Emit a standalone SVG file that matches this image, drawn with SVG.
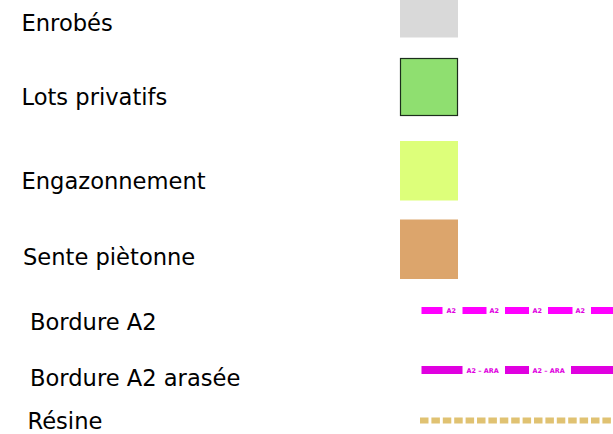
<svg xmlns="http://www.w3.org/2000/svg" width="613" height="434" viewBox="0 0 613 434">
<style>
.lbl{font-family:"DejaVu Sans",sans-serif;font-size:22.6px;fill:#000}
.sm{font-family:"DejaVu Sans",sans-serif;font-size:6.5px;font-weight:bold;fill:#e000e0}
.a2{fill:#ff00ff}
.ara{fill:#e000e0}
.res{fill:#e0c272}
</style>
<rect width="613" height="434" fill="#fff"/>
<g id="enrobes">
<text class="lbl" x="21.5" y="31">Enrobés</text>
<rect x="400" y="0" width="58" height="37.5" fill="#d9d9d9"/>
</g>
<g id="lots-privatifs">
<text class="lbl" x="21.5" y="105">Lots privatifs</text>
<rect x="400.5" y="58.5" width="57" height="57" fill="#8fdf70" stroke="#1c2e1c" stroke-width="1.2"/>
</g>
<g id="engazonnement">
<text class="lbl" x="21.5" y="188.5">Engazonnement</text>
<rect x="400" y="141" width="58" height="59.5" fill="#ddff7a"/>
</g>
<g id="sente-pietonne">
<text class="lbl" x="23" y="265">Sente piètonne</text>
<rect x="400" y="219.5" width="58" height="59.5" fill="#dca56c"/>
</g>
<g id="bordure-a2">
<text class="lbl" x="30" y="330">Bordure A2</text>
<rect class="a2" x="421.5" y="307" width="21" height="7"/>
<text class="sm" x="446.5" y="313">A2</text>
<rect class="a2" x="462.5" y="307" width="24" height="7"/>
<text class="sm" x="489.5" y="313">A2</text>
<rect class="a2" x="505" y="307" width="24" height="7"/>
<text class="sm" x="532.5" y="313">A2</text>
<rect class="a2" x="548" y="307" width="24.5" height="7"/>
<text class="sm" x="575.5" y="313">A2</text>
<rect class="a2" x="591" y="307" width="22" height="7"/>
</g>
<g id="bordure-a2-arasee">
<text class="lbl" x="30" y="386">Bordure A2 arasée</text>
<rect class="ara" x="421.5" y="366" width="41" height="8"/>
<text class="sm" x="466.5" y="372.5">A2 – ARA</text>
<rect class="ara" x="505" y="366" width="24" height="8"/>
<text class="sm" x="532.5" y="372.5">A2 – ARA</text>
<rect class="ara" x="571" y="366" width="42" height="8"/>
</g>
<g id="resine">
<text class="lbl" x="27.5" y="428.5">Résine</text>
<g class="res">
<rect x="420" y="417.5" width="8.5" height="6"/>
<rect x="431.4" y="417.5" width="8.5" height="6"/>
<rect x="442.8" y="417.5" width="8.5" height="6"/>
<rect x="454.2" y="417.5" width="8.5" height="6"/>
<rect x="465.6" y="417.5" width="8.5" height="6"/>
<rect x="477" y="417.5" width="8.5" height="6"/>
<rect x="488.4" y="417.5" width="8.5" height="6"/>
<rect x="499.8" y="417.5" width="8.5" height="6"/>
<rect x="511.2" y="417.5" width="8.5" height="6"/>
<rect x="522.6" y="417.5" width="8.5" height="6"/>
<rect x="534" y="417.5" width="8.5" height="6"/>
<rect x="545.4" y="417.5" width="8.5" height="6"/>
<rect x="556.8" y="417.5" width="8.5" height="6"/>
<rect x="568.2" y="417.5" width="8.5" height="6"/>
<rect x="579.6" y="417.5" width="8.5" height="6"/>
<rect x="591" y="417.5" width="8.5" height="6"/>
<rect x="602.4" y="417.5" width="8.5" height="6"/>
</g>
</g>
</svg>
